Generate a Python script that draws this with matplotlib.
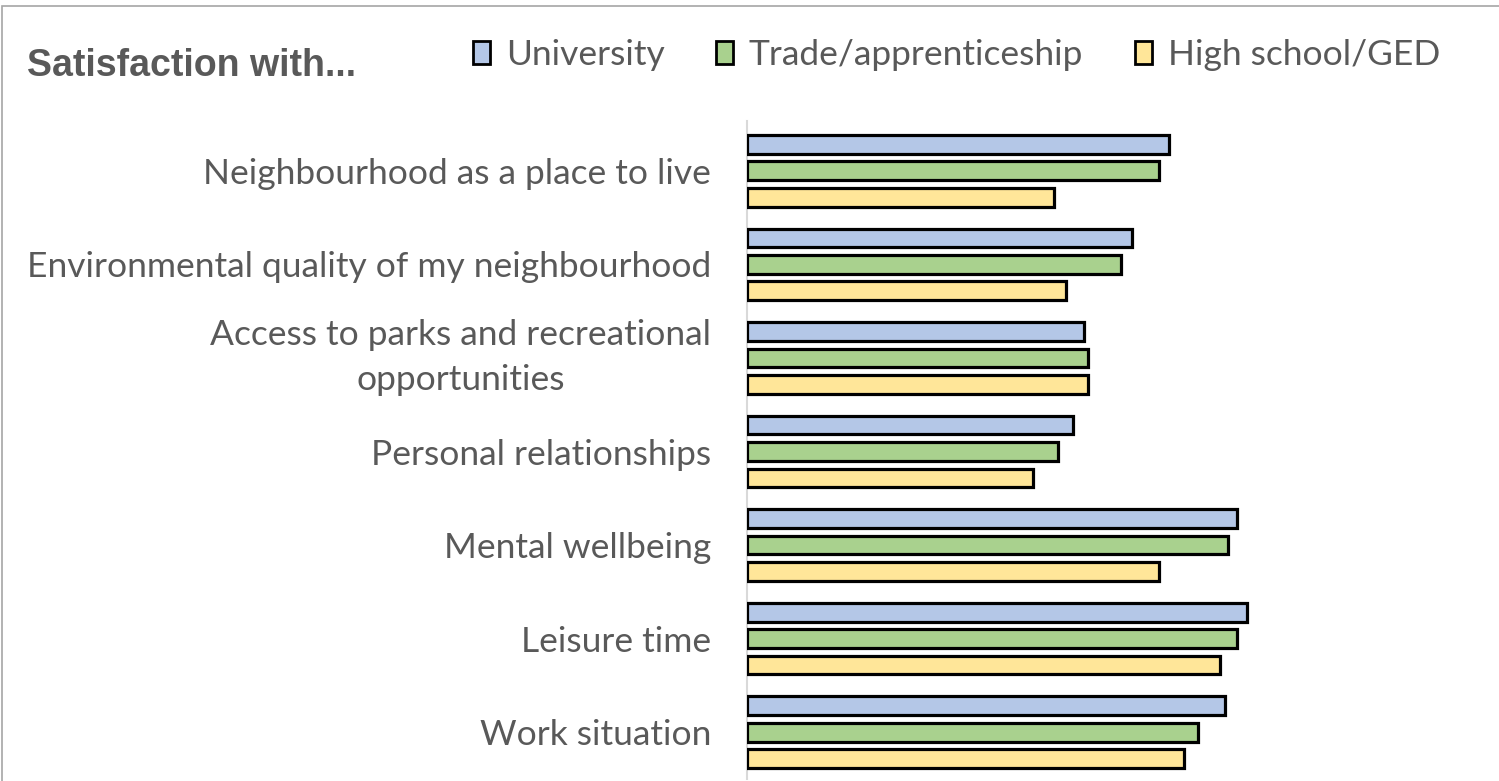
import numpy as np
import matplotlib
matplotlib.use("Agg")
import matplotlib.pyplot as plt
from matplotlib.patches import Rectangle

# satisfaction categories, top to bottom
categories = [
    "Neighbourhood as a place to live",
    "Environmental quality of my neighbourhood",
    "Access to parks and recreational\nopportunities",
    "Personal relationships",
    "Mental wellbeing",
    "Leisure time",
    "Work situation",
]
series_names = ["University", "Trade/apprenticeship", "High school/GED"]

# values (no scale shown, read as % of plot width)
university = [56.8, 51.8, 45.4, 43.9, 66.0, 67.3, 64.3]
trade = [55.5, 50.3, 45.9, 41.9, 64.8, 66.0, 60.7]
high_school = [41.3, 42.9, 45.9, 38.5, 55.5, 63.6, 58.8]

colors = ["#B4C7E7", "#A9D18E", "#FFE699"]
text_gray = "#595959"

W, H = 1499, 781
fig = plt.figure(figsize=(W / 100, H / 100), dpi=100)
ax = fig.add_axes([747 / W, 1 - 779 / H, (1490 - 747) / W, (779 - 124) / H])

y = np.arange(len(categories))
step = 0.283
bar_h = 0.2
handles = []
for i, (name, vals) in enumerate(zip(series_names, [university, trade, high_school])):
    b = ax.barh(y + (i - 1) * step, vals, height=bar_h, color=colors[i],
                edgecolor="black", linewidth=2.3, label=name, zorder=3)
    handles.append(b)

ax.set_xlim(0, 100)
ax.set_ylim(len(categories) - 0.5, -0.5)
ax.set_xticks([])
ax.set_yticks(y)
ax.set_yticklabels(categories, fontsize=25.5, color=text_gray, family="Lato",
                   linespacing=1.5)
for lbl in ax.get_yticklabels():
    if "\n" in lbl.get_text():
        lbl.set_multialignment("center")
        lbl.set_verticalalignment("center")
ax.tick_params(axis="y", length=0, pad=26)
for side in ["top", "right", "bottom"]:
    ax.spines[side].set_visible(False)
ax.spines["left"].set_color("#D9D9D9")
ax.spines["left"].set_linewidth(1.5)
ax.spines["left"].set_bounds(len(categories) - 0.5, -0.53)

fig.text(27 / W, 1 - 66 / H, "Satisfaction with...", fontsize=27, fontweight="bold",
         color=text_gray, family="Liberation Sans", va="center", ha="left")

leg = fig.legend(handles=handles, loc="center left", bbox_to_anchor=(473 / W, 1 - 55 / H),
                 ncol=3, frameon=False, fontsize=25.5, handlelength=0.48, handleheight=0.65,
                 handletextpad=0.45, columnspacing=1.45, borderaxespad=0, borderpad=0)
for t in leg.get_texts():
    t.set_color(text_gray)
    t.set_family("Lato")
for p in leg.get_patches():
    p.set_linewidth(2.0)

# outer chart frame (cropped at right and bottom)
fig.patches.append(Rectangle((2 / W, -0.1), 1.2, 1 - 6 / H + 0.1, transform=fig.transFigure,
                             fill=False, edgecolor="#A6A6A6", linewidth=1.2))

fig.savefig("out.png", dpi=100)
